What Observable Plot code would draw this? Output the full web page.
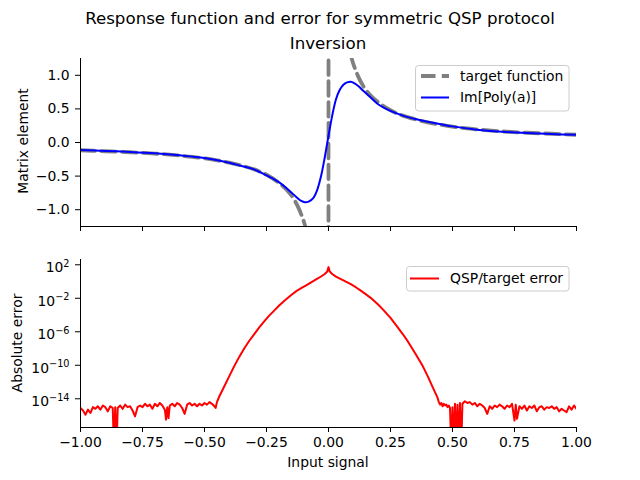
<!DOCTYPE html>
<html>
<head>
<meta charset="utf-8">
<script src="https://cdn.jsdelivr.net/npm/d3@7"></script>
<script src="https://cdn.jsdelivr.net/npm/@observablehq/plot@0.6"></script>
<style>
  html, body { margin: 0; padding: 0; background: #fff; }
  #wrap { position: relative; width: 640px; height: 480px; font-family: "DejaVu Sans", sans-serif; }
  #wrap > svg.panel { position: absolute; left: 0; }
  #overlay { position: absolute; left: 0; top: 0; pointer-events: none; }
</style>
</head>
<body>
<div id="wrap"></div>
<script>
// ---------------- data ----------------
const xTicks = [-1, -0.75, -0.5, -0.25, 0, 0.25, 0.5, 0.75, 1];
const yTicksTop = [-1, -0.5, 0, 0.5, 1];
const logTicks = [1e2, 1e-2, 1e-6, 1e-10, 1e-14];

// target function (gray dashed)
const targetX = [-1, -0.9, -0.8, -0.7, -0.6, -0.5, -0.45, -0.4, -0.35, -0.3, -0.25, -0.2, -0.17, -0.14, -0.12, -0.11, -0.1, -0.09, -0.08, -0.05, -0.003,
                 0.003, 0.05, 0.08, 0.09, 0.1, 0.11, 0.12, 0.14, 0.17, 0.2, 0.25, 0.3, 0.35, 0.4, 0.45, 0.5, 0.6, 0.7, 0.8, 0.9, 1];
const targetY = [-0.115, -0.13, -0.145, -0.165, -0.195, -0.235, -0.265, -0.30, -0.345, -0.40, -0.48, -0.60, -0.70, -0.84, -0.98, -1.07, -1.17, -1.30, -1.46, -2.3, -40,
                 40, 2.3, 1.46, 1.30, 1.17, 1.07, 0.98, 0.84, 0.70, 0.60, 0.48, 0.40, 0.345, 0.30, 0.265, 0.235, 0.195, 0.165, 0.145, 0.13, 0.115];

// Im[Poly(a)] (blue)
const polyX = [-1, -0.9, -0.8, -0.7, -0.6, -0.5, -0.4, -0.35, -0.3, -0.25, -0.2, -0.16, -0.13, -0.11, -0.095, -0.08, -0.06, -0.045, -0.03, -0.015, 0,
               0.015, 0.03, 0.045, 0.06, 0.075, 0.09, 0.105, 0.12, 0.14, 0.17, 0.2, 0.25, 0.3, 0.35, 0.4, 0.5, 0.6, 0.7, 0.8, 0.9, 1];
const polyY = [-0.11, -0.125, -0.14, -0.16, -0.19, -0.23, -0.30, -0.35, -0.40, -0.49, -0.59, -0.71, -0.81, -0.87, -0.89, -0.88, -0.82, -0.70, -0.50, -0.22, 0.10,
               0.40, 0.64, 0.78, 0.86, 0.895, 0.905, 0.88, 0.84, 0.77, 0.67, 0.57, 0.47, 0.40, 0.35, 0.31, 0.24, 0.19, 0.16, 0.14, 0.125, 0.115];

// QSP/target absolute error: x and log10(error); -20 marks exact zeros (drawn off the bottom)
const errX = [
 -1.00, -0.99, -0.98, -0.97, -0.96, -0.95, -0.94, -0.93, -0.92, -0.91, -0.90, -0.89, -0.88, -0.87, -0.865, -0.86, -0.855, -0.85,
 -0.84, -0.83, -0.82, -0.81, -0.80, -0.79, -0.78, -0.77, -0.76, -0.75, -0.74, -0.73, -0.72, -0.71, -0.70, -0.69, -0.68, -0.67,
 -0.66, -0.655, -0.65, -0.645, -0.64, -0.63, -0.62, -0.61, -0.60, -0.59, -0.58, -0.57, -0.56, -0.55, -0.54, -0.53, -0.52, -0.51,
 -0.50, -0.49, -0.48, -0.47, -0.46, -0.455,
 -0.45, -0.44, -0.42, -0.40, -0.38, -0.36, -0.34, -0.32, -0.30, -0.28, -0.26, -0.24, -0.22, -0.20, -0.18, -0.16, -0.15, -0.13,
 -0.11, -0.09, -0.07, -0.05, -0.03, -0.015, -0.005, 0, 0.005, 0.015, 0.03, 0.05, 0.07, 0.09, 0.11, 0.13, 0.15, 0.17, 0.20, 0.22,
 0.25, 0.28, 0.30, 0.32, 0.35, 0.38, 0.40, 0.42, 0.44, 0.445,
 0.45, 0.455, 0.46, 0.465, 0.47, 0.475, 0.48, 0.485, 0.49, 0.495, 0.50, 0.505, 0.51, 0.515, 0.52, 0.525, 0.53, 0.535, 0.54,
 0.55, 0.56, 0.57, 0.58, 0.59, 0.60, 0.61, 0.62, 0.63, 0.64, 0.65, 0.66, 0.67, 0.68, 0.69, 0.70, 0.71, 0.72, 0.73, 0.74, 0.75,
 0.755, 0.76, 0.77, 0.78, 0.79, 0.80, 0.81, 0.82, 0.83, 0.84, 0.85, 0.86, 0.87, 0.88, 0.89, 0.90, 0.91, 0.92, 0.93, 0.94, 0.95,
 0.96, 0.97, 0.98, 0.99, 1.00];
const errLog = [
 -15.1, -15.4, -15.9, -15.3, -15.7, -15.0, -15.2, -14.9, -15.3, -14.8, -15.0, -15.5, -14.9, -15.1, -20, -15.0, -20, -15.1,
 -14.8, -15.2, -14.7, -15.0, -14.9, -15.4, -16.1, -15.0, -14.8, -15.0, -14.6, -14.9, -14.7, -15.2, -14.6, -14.9, -14.5, -14.8,
 -15.3, -16.5, -15.0, -16.3, -14.8, -14.6, -14.9, -14.5, -14.7, -15.1, -15.8, -14.7, -14.5, -14.8, -14.6, -14.9, -14.6, -14.8,
 -14.5, -14.7, -14.4, -14.6, -14.9, -15.1,
 -14.4, -13.7, -12.5, -11.3, -10.1, -9.0, -8.0, -7.1, -6.3, -5.5, -4.8, -4.1, -3.5, -2.9, -2.35, -1.85, -1.6, -1.15,
 -0.8, -0.45, -0.1, 0.25, 0.6, 0.9, 1.2, 1.72, 1.2, 0.9, 0.58, 0.28, -0.02, -0.32, -0.68, -1.08, -1.5, -1.95, -2.75, -3.35,
 -4.35, -5.5, -6.3, -7.15, -8.6, -10.1, -11.3, -12.6, -13.9, -14.4,
 -14.7, -14.5, -14.9, -14.6, -14.8, -14.7, -15.0, -14.8, -15.1, -20, -15.0, -20, -14.6, -20, -14.7, -20, -14.5, -20, -14.6,
 -14.3, -14.5, -14.4, -14.7, -14.5, -14.9, -14.6, -14.8, -15.1, -15.8, -14.9, -15.2, -14.8, -15.0, -14.7, -14.9, -15.2, -14.8, -15.0, -14.6, -16.6,
 -14.7, -16.4, -14.9, -15.2, -14.8, -15.4, -14.9, -15.1, -14.8, -15.5, -15.0, -14.9, -15.3, -15.0, -15.1, -14.9, -15.2, -15.0, -15.5, -15.2, -15.4,
 -15.6, -14.9, -15.3, -14.8, -15.2];

// ---------------- tables ----------------
const targetRows = targetX.map((x, i) => ({x, y: targetY[i]}));
const polyRows = polyX.map((x, i) => ({x, y: polyY[i]}));
const errRows = errX.map((x, i) => ({x, y: Math.pow(10, errLog[i])}));

const minus = s => String(s).replace("-", "\u2212");
const FONT = "DejaVu Sans, sans-serif";
const DASH = "14.5,6.3";

// ---------------- top panel ----------------
const topPanel = Plot.plot({
  width: 640, height: 240,
  marginLeft: 80, marginRight: 64, marginTop: 58, marginBottom: 14,
  style: {fontFamily: FONT, fontSize: "13.9px", color: "#000", background: "transparent", overflow: "visible"},
  x: {domain: [-1, 1], ticks: xTicks, tickFormat: () => "", tickSize: 5, label: null},
  y: {domain: [-1.25, 1.25], ticks: yTicksTop, tickFormat: d => minus(d.toFixed(1)), tickSize: 5, tickPadding: 6, label: null},
  marks: [
    Plot.line(targetRows, {x: "x", y: "y", stroke: "#808080", strokeWidth: 3.8, strokeDasharray: DASH, curve: "monotone-x", clip: true}),
    Plot.line(polyRows, {x: "x", y: "y", stroke: "#0000ff", strokeWidth: 2, curve: "catmull-rom", clip: true}),
    Plot.ruleX([-1], {stroke: "#000", strokeWidth: 1}),
    Plot.ruleY([-1.25], {stroke: "#000", strokeWidth: 1})
  ]
});
topPanel.classList.add("panel");
topPanel.style.top = "0px";

// ---------------- bottom panel ----------------
const bottomPanel = Plot.plot({
  width: 640, height: 240,
  marginLeft: 80, marginRight: 64, marginTop: 19, marginBottom: 53,
  style: {fontFamily: FONT, fontSize: "13.9px", color: "#000", background: "transparent", overflow: "visible"},
  x: {domain: [-1, 1], ticks: xTicks, tickFormat: d => minus(d.toFixed(2)), tickSize: 5, tickPadding: 5, label: null},
  y: {type: "log", domain: [Math.pow(10, -17.43), Math.pow(10, 2.63)], ticks: logTicks,
      tickFormat: d => "10^" + minus(Math.round(Math.log10(d))), tickSize: 5, tickPadding: 6, label: null},
  marks: [
    Plot.line(errRows, {x: "x", y: "y", stroke: "#ff0000", strokeWidth: 2, clip: true}),
    Plot.ruleX([-1], {stroke: "#000", strokeWidth: 1}),
    Plot.ruleY([Math.pow(10, -17.43)], {stroke: "#000", strokeWidth: 1})
  ]
});
bottomPanel.classList.add("panel");
bottomPanel.style.top = "240px";

// superscript exponents on the log axis
const NS = "http://www.w3.org/2000/svg";
bottomPanel.querySelectorAll("text").forEach(t => {
  const m = t.textContent.match(/^10\^(.+)$/);
  if (!m) return;
  t.textContent = "10";
  const hasDy = t.hasAttribute("dy");
  t.setAttribute("dy", hasDy ? "0.52em" : "0.2em");
  const ts = document.createElementNS(NS, "tspan");
  ts.setAttribute("dy", "-0.55em");
  ts.setAttribute("font-size", "0.7em");
  ts.textContent = m[1];
  t.appendChild(ts);
});

const wrap = document.getElementById("wrap");
wrap.appendChild(topPanel);
wrap.appendChild(bottomPanel);

// ---------------- titles, axis labels, legends ----------------
const ov = d3.select(wrap).append("svg").attr("id", "overlay")
  .attr("width", 640).attr("height", 480)
  .style("font-family", FONT);

ov.append("text").attr("x", 320).attr("y", 24.3).attr("text-anchor", "middle")
  .style("font-size", "16.67px").text("Response function and error for symmetric QSP protocol");
ov.append("text").attr("x", 328).attr("y", 48.5).attr("text-anchor", "middle")
  .style("font-size", "16.67px").text("Inversion");
ov.append("text").attr("x", 328).attr("y", 466.5).attr("text-anchor", "middle")
  .style("font-size", "13.9px").text("Input signal");
ov.append("text").attr("transform", "translate(27.5,141) rotate(-90)").attr("text-anchor", "middle")
  .style("font-size", "13.9px").text("Matrix element");
ov.append("text").attr("transform", "translate(21.5,343) rotate(-90)").attr("text-anchor", "middle")
  .style("font-size", "13.9px").text("Absolute error");

// legend (top)
const lg1 = ov.append("g");
lg1.append("rect").attr("x", 415.5).attr("y", 65.5).attr("width", 153.5).attr("height", 45.5).attr("rx", 3)
  .attr("fill", "#fff").attr("fill-opacity", 0.8).attr("stroke", "#cccccc").attr("stroke-width", 1);
lg1.append("line").attr("x1", 421).attr("x2", 449).attr("y1", 76).attr("y2", 76)
  .attr("stroke", "#808080").attr("stroke-width", 3.8).attr("stroke-dasharray", DASH);
lg1.append("text").attr("x", 460).attr("y", 80.8).style("font-size", "13.9px").text("target function");
lg1.append("line").attr("x1", 421).attr("x2", 449).attr("y1", 97.5).attr("y2", 97.5)
  .attr("stroke", "#0000ff").attr("stroke-width", 2);
lg1.append("text").attr("x", 460).attr("y", 102.3).style("font-size", "13.9px").text("Im[Poly(a)]");

// legend (bottom)
const lg2 = ov.append("g");
lg2.append("rect").attr("x", 406.5).attr("y", 266.5).attr("width", 162.5).attr("height", 24.5).attr("rx", 3)
  .attr("fill", "#fff").attr("fill-opacity", 0.8).attr("stroke", "#cccccc").attr("stroke-width", 1);
lg2.append("line").attr("x1", 410).attr("x2", 439).attr("y1", 278.5).attr("y2", 278.5)
  .attr("stroke", "#ff0000").attr("stroke-width", 2);
lg2.append("text").attr("x", 450).attr("y", 283.3).style("font-size", "13.9px").text("QSP/target error");
</script>
</body>
</html>
